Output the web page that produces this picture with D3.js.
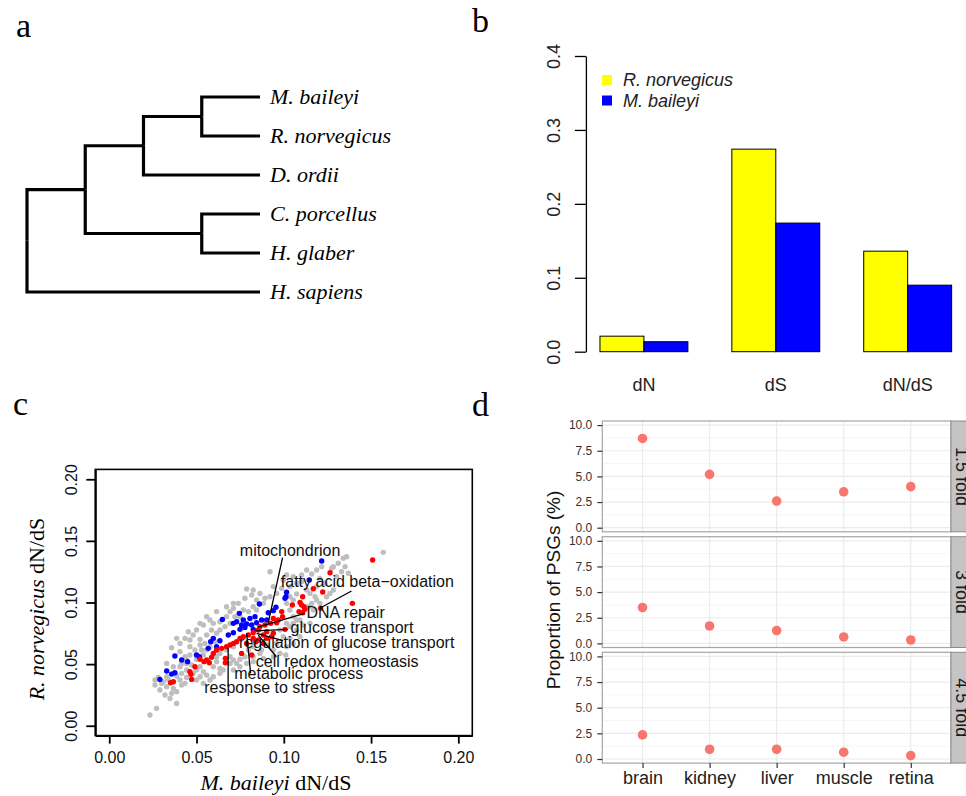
<!DOCTYPE html>
<html>
<head>
<meta charset="utf-8">
<script src="https://cdn.jsdelivr.net/npm/d3@7"></script>
<style>
  body { margin: 0; background: #fff; }
  svg { display: block; }
  text { font-family: "Liberation Sans", Arial, sans-serif; }
</style>
</head>
<body>
<div id="fig"></div>
<script>
// ---- DATA ----
// a: species tree
const species = ["M. baileyi", "R. norvegicus", "D. ordii", "C. porcellus", "H. glaber", "H. sapiens"];
const treeData = { children: [
  { children: [
    { children: [ { children: [ { name: species[0] }, { name: species[1] } ] }, { name: species[2] } ] },
    { children: [ { name: species[3] }, { name: species[4] } ] }
  ] },
  { name: species[5] }
] };

// b: dN, dS, dN/dS
const bMetrics = ["dN", "dS", "dN/dS"];
const bSpecies = ["R. norvegicus", "M. baileyi"];
const bNorvegicus = [0.021, 0.274, 0.136];
const bBaileyi = [0.0135, 0.174, 0.090];
const bTicks = [0, 0.1, 0.2, 0.3, 0.4];

// c: per-gene dN/dS, [M. baileyi, R. norvegicus]
const cTicks = [0, 0.05, 0.10, 0.15, 0.20];
const greyGenes = [
  [0.0233,0.0087],[0.0271,0.0141],[0.0386,0.0181],[0.0348,0.0222],[0.0319,0.0249],[0.0290,0.0290],
  [0.0262,0.0330],[0.0300,0.0344],[0.0329,0.0317],[0.0367,0.0303],[0.0386,0.0276],[0.0357,0.0263],
  [0.0262,0.0371],[0.0281,0.0392],[0.0309,0.0357],[0.0338,0.0376],[0.0405,0.0371],[0.0434,0.0344],
  [0.0415,0.0330],[0.0443,0.0392],[0.0386,0.0403],[0.0357,0.0633],[0.0405,0.0601],[0.0434,0.0560],
  [0.0462,0.0574],[0.0491,0.0614],[0.0520,0.0655],[0.0548,0.0668],[0.0462,0.0641],[0.0443,0.0506],
  [0.0472,0.0493],[0.0500,0.0452],[0.0520,0.0479],[0.0539,0.0438],[0.0558,0.0411],[0.0520,0.0398],
  [0.0481,0.0425],[0.0462,0.0696],[0.0520,0.0701],[0.0558,0.0736],[0.0586,0.0777],[0.0596,0.0831],
  [0.0634,0.0844],[0.0672,0.0885],[0.0692,0.0926],[0.0711,0.0953],[0.0787,0.1110],[0.0921,0.1250],
  [0.0615,0.0560],[0.0634,0.0587],[0.0692,0.0560],[0.0711,0.0533],[0.0730,0.0506],[0.0749,0.0539],
  [0.0777,0.0560],[0.0797,0.0614],[0.0825,0.0641],[0.0873,0.0614],[0.0902,0.0655],[0.0959,0.0668],
  [0.1011,0.0574],[0.0921,0.1047],[0.0959,0.1074],[0.0988,0.1115],[0.1035,0.1129],[0.1074,0.1156],
  [0.1054,0.1210],[0.1102,0.1223],[0.1131,0.1264],[0.1160,0.1231],[0.1188,0.1264],[0.1217,0.1291],
  [0.1274,0.1277],[0.1284,0.1291],[0.1312,0.1318],[0.1341,0.1359],[0.1360,0.1372],[0.1331,0.1250],
  [0.1370,0.1237],[0.1303,0.1210],[0.1570,0.1407],[0.1131,0.1101],[0.1150,0.1074],[0.1179,0.1047],
  [0.1188,0.1020],[0.1160,0.0993],[0.1140,0.0966],[0.1169,0.0939],[0.1207,0.0993],[0.1245,0.1047],
  [0.1265,0.1074],[0.1284,0.1101],[0.1035,0.1047],[0.1054,0.1020],[0.1074,0.1069],[0.1016,0.0993],
  [0.1035,0.0939],[0.1054,0.0885],[0.1016,0.0831],[0.1035,0.0804],[0.1054,0.0831],[0.1074,0.0858],
  [0.0883,0.0993],[0.0844,0.0939],[0.0825,0.0966],[0.0797,0.0926],[0.0768,0.0939],[0.0749,0.0885],
  [0.0720,0.0885],[0.0692,0.0831],[0.0663,0.0804],[0.0634,0.0777],[0.0615,0.0750],[0.0558,0.0614],
  [0.0539,0.0574],[0.0500,0.0539],[0.0596,0.0479],[0.0615,0.0520],[0.0634,0.0465],[0.0672,0.0614],
  [0.0711,0.0641],[0.0577,0.0641],[0.0606,0.0682],[0.0529,0.0614],[0.0443,0.0452],[0.0415,0.0425],
  [0.0863,0.1074],[0.0940,0.1129],[0.0997,0.1183],[0.1016,0.1223],[0.1102,0.1169],[0.1207,0.1196],
  [0.1236,0.1156],[0.1351,0.1291],[0.1188,0.1129],[0.1093,0.0858],[0.0978,0.0777],[0.0940,0.0614],
  [0.0863,0.0587],[0.0825,0.0560],[0.0787,0.0506],[0.0692,0.0506],[0.0653,0.0452],[0.0577,0.0371],
  [0.0367,0.0479],[0.0329,0.0506],[0.0405,0.0479],[0.0443,0.0533],
  [0.0739,0.0993],[0.0777,0.1034],[0.0816,0.1061],[0.0844,0.1020],[0.0892,0.1034],[0.0825,0.1101],
  [0.0711,0.0993],[0.0672,0.0966],[0.0615,0.0926],[0.0577,0.0858],[0.0539,0.0817],[0.0500,0.0777],
  [0.0520,0.0831],[0.0558,0.0885],[0.0405,0.0668],[0.0434,0.0709],[0.0481,0.0736],[0.0453,0.0763],
  [0.0386,0.0709],[0.0415,0.0506],[0.0367,0.0425],[0.0329,0.0398],[0.0500,0.0371],[0.0539,0.0344],
  [0.0596,0.0398],[0.0634,0.0425],[0.0711,0.0452],[0.0749,0.0479],[0.0825,0.0520],[0.0883,0.0547],
  [0.0940,0.0560],[0.0978,0.0587],[0.1016,0.0641],[0.1054,0.0668],[0.1093,0.0723],[0.1150,0.0831],
  [0.0997,0.0723],[0.1035,0.0709],[0.1074,0.0777],[0.1112,0.0817]
];
const blueGenes = [
  [0.1217,0.1337],[0.1146,0.1183],[0.1016,0.1083],[0.1012,0.1047],[0.0860,0.0988],[0.0955,0.0961],
  [0.0940,0.0934],[0.0911,0.0917],[0.0745,0.0912],[0.0648,0.0863],[0.0711,0.0831],[0.0730,0.0844],
  [0.0768,0.0858],[0.0806,0.0871],[0.0835,0.0885],[0.0787,0.0825],[0.0816,0.0817],[0.0844,0.0836],
  [0.0749,0.0782],[0.0777,0.0798],[0.0873,0.0858],[0.0902,0.0858],[0.0758,0.0817],[0.0825,0.0782],
  [0.0682,0.0736],[0.0711,0.0755],[0.0596,0.0709],[0.0581,0.0682],[0.0634,0.0690],[0.0615,0.0641],
  [0.0567,0.0628],[0.0500,0.0574],[0.0516,0.0560],[0.0376,0.0566],[0.0415,0.0533],[0.0449,0.0520],
  [0.0329,0.0444],[0.0357,0.0419],[0.0376,0.0430],[0.0290,0.0376],[0.1007,0.1034]
];
const redGenes = [
  [0.1509,0.1345],[0.1265,0.1242],[0.1169,0.1112],[0.1223,0.1085],[0.1108,0.1047],[0.1393,0.0993],
  [0.1093,0.1001],[0.1102,0.0980],[0.1116,0.0966],[0.1121,0.0945],[0.1087,0.0926],[0.1108,0.0917],
  [0.1049,0.0980],[0.1211,0.0953],[0.0988,0.0926],[0.0993,0.0885],[0.0968,0.0858],[0.0940,0.0871],
  [0.0959,0.0836],[0.0925,0.0831],[0.1007,0.0782],[0.0940,0.0750],[0.0902,0.0763],[0.0883,0.0736],
  [0.0854,0.0777],[0.0825,0.0755],[0.0797,0.0736],[0.0768,0.0723],[0.0749,0.0709],[0.0730,0.0682],
  [0.0711,0.0668],[0.0692,0.0655],[0.0672,0.0641],[0.0644,0.0628],[0.0615,0.0614],[0.0840,0.0682],
  [0.0854,0.0696],[0.0883,0.0668],[0.0787,0.0668],[0.0825,0.0709],[0.0816,0.0574],[0.0758,0.0587],
  [0.0665,0.0511],[0.0665,0.0547],[0.0596,0.0587],[0.0586,0.0555],[0.0558,0.0533],[0.0573,0.0511],
  [0.0543,0.0520],[0.0520,0.0539],[0.0491,0.0479],[0.0462,0.0438],[0.0468,0.0417],[0.0472,0.0376],
  [0.0367,0.0357],[0.0351,0.0349],[0.0902,0.0709],[0.0930,0.0723],[0.0863,0.0804],[0.0892,0.0817]
];
// GO term labels: text anchor and leader line, in data units
const goTerms = ["mitochondrion", "fatty acid beta\u2212oxidation", "DNA repair", "glucose transport",
  "regulation of glucose transport", "cell redox homeostasis", "metabolic process", "response to stress"];
const goText = [[0.0748,0.1380],[0.0983,0.1123],[0.1130,0.0877],[0.1039,0.0750],
  [0.0744,0.0628],[0.0840,0.0479],[0.0716,0.0377],[0.0544,0.0263]];
const goLine = [[0.0993,0.1364,0.0910,0.0831],[0.1388,0.1093,0.1206,0.0953],[0.1120,0.0912,0.0851,0.0801],
  [0.1023,0.0782,0.0834,0.0769],[0.0996,0.0690,0.0844,0.0750],[0.0958,0.0560,0.0853,0.0736],
  [0.0810,0.0425,0.0787,0.0750],[0.0681,0.0317,0.0681,0.0628]];

// d: proportion of PSGs per tissue
const tissues = ["brain", "kidney", "liver", "muscle", "retina"];
const folds = ["1.5 fold", "3 fold", "4.5 fold"];
const psg15 = [8.7, 5.2, 2.6, 3.5, 4.0];
const psg3 = [3.5, 1.7, 1.25, 0.63, 0.33];
const psg45 = [2.35, 0.95, 0.95, 0.66, 0.33];
const dTicks = [0, 2.5, 5, 7.5, 10];

// ---- SVG ----
const svg = d3.select("#fig").append("svg")
  .attr("width", 966)
  .attr("height", 796);

const serif = "'Liberation Serif', 'Times New Roman', serif";

// panel letters
[["a", 16, 37], ["b", 472, 32], ["c", 13, 415], ["d", 472, 416]].forEach(d => {
  svg.append("text").attr("x", d[1]).attr("y", d[2])
    .style("font-family", serif).style("font-size", "34px").text(d[0]);
});

// ---- PANEL A: tree ----
const gA = svg.append("g").attr("transform", "translate(27,77.5)");
const root = d3.hierarchy(treeData);
d3.cluster().size([234, 233]).separation(() => 1)(root);

gA.selectAll("path.branch")
  .data(root.links())
  .enter()
  .append("path")
  .attr("class", "branch")
  .attr("d", d => `M${d.source.y},${d.source.x}V${d.target.x}H${d.target.y}`)
  .style("fill", "none")
  .style("stroke", "#000")
  .style("stroke-width", 3.2);

gA.selectAll("text.tip")
  .data(root.leaves())
  .enter()
  .append("text")
  .attr("class", "tip")
  .attr("x", d => d.y + 10)
  .attr("y", d => d.x)
  .attr("dy", "0.33em")
  .style("font-family", serif)
  .style("font-style", "italic")
  .style("font-size", "22px")
  .text(d => d.data.name);

// ---- PANEL B: bars ----
const gB = svg.append("g");
const xB = d3.scaleLinear().domain([0.68, 9.32]).range([585.9, 965.7]);
const yB = d3.scaleLinear().domain([0, 0.4]).range([351.7, 56]);
const barColors = ["#ffff00", "#0000ff"];

const barRows = [];
bMetrics.forEach((m, i) => {
  barRows.push({ m, s: 0, v: bNorvegicus[i], u: 1 + 3 * i });
  barRows.push({ m, s: 1, v: bBaileyi[i], u: 2 + 3 * i });
});

gB.selectAll("rect.bar")
  .data(barRows)
  .enter()
  .append("rect")
  .attr("class", "bar")
  .attr("x", d => xB(d.u))
  .attr("width", d => xB(d.u + 1) - xB(d.u))
  .attr("y", d => yB(d.v))
  .attr("height", d => yB(0) - yB(d.v))
  .style("fill", d => barColors[d.s])
  .style("stroke", "#000")
  .style("stroke-width", 1);

const axB = gB.append("g")
  .attr("transform", `translate(${xB(0.68)},0)`)
  .call(d3.axisLeft(yB).tickValues(bTicks).tickSize(11).tickSizeOuter(0).tickFormat(d3.format(".1f")));
axB.select(".domain").style("stroke-width", 1.3);
axB.selectAll(".tick line").style("stroke-width", 1.3);
axB.selectAll(".tick text")
  .attr("x", null).attr("dy", null)
  .attr("transform", "translate(-26,0) rotate(-90)")
  .attr("text-anchor", "middle")
  .style("font-size", "18px")
  .style("font-family", "'Liberation Sans', Arial, sans-serif")
  .style("fill", "#222");

gB.selectAll("text.metric")
  .data(bMetrics)
  .enter()
  .append("text")
  .attr("class", "metric")
  .attr("x", (d, i) => xB(2 + 3 * i))
  .attr("y", 391)
  .attr("text-anchor", "middle")
  .style("font-size", "18px")
  .style("fill", "#222")
  .text(d => d);

const legB = gB.selectAll("g.leg")
  .data(bSpecies)
  .enter()
  .append("g")
  .attr("class", "leg")
  .attr("transform", (d, i) => `translate(602,${75 + i * 20.5})`);
legB.append("rect").attr("width", 10).attr("height", 10).style("fill", (d, i) => barColors[i]);
legB.append("text").attr("x", 21).attr("y", 11)
  .style("font-size", "18px").style("font-style", "italic").style("fill", "#222")
  .text(d => d);

// ---- PANEL C: scatter ----
const gC = svg.append("g");
const xC = d3.scaleLinear().domain([-0.008, 0.208]).range([95.3, 472.3]);
const yC = d3.scaleLinear().domain([-0.008, 0.208]).range([735.6, 469.4]);

gC.append("rect")
  .attr("x", xC(-0.008)).attr("y", yC(0.208))
  .attr("width", xC(0.208) - xC(-0.008))
  .attr("height", yC(-0.008) - yC(0.208))
  .style("fill", "none").style("stroke", "#000").style("stroke-width", 1.6);

[[greyGenes, "#bebebe"], [blueGenes, "#0000ff"], [redGenes, "#ff0000"]].forEach(([pts, col]) => {
  gC.append("g").selectAll("circle")
    .data(pts)
    .enter()
    .append("circle")
    .attr("cx", d => xC(d[0]))
    .attr("cy", d => yC(d[1]))
    .attr("r", 2.7)
    .style("fill", col);
});

gC.selectAll("line.leader")
  .data(goLine)
  .enter()
  .append("line")
  .attr("class", "leader")
  .attr("x1", d => xC(d[0])).attr("y1", d => yC(d[1]))
  .attr("x2", d => xC(d[2])).attr("y2", d => yC(d[3]))
  .style("stroke", "#000").style("stroke-width", 1.3);

gC.selectAll("text.go")
  .data(goTerms)
  .enter()
  .append("text")
  .attr("class", "go")
  .attr("x", (d, i) => xC(goText[i][0]))
  .attr("y", (d, i) => yC(goText[i][1]))
  .style("font-size", "16px")
  .style("fill", "#111")
  .text(d => d);

const axCx = gC.append("g")
  .attr("transform", `translate(0,${yC(-0.008)})`)
  .call(d3.axisBottom(xC).tickValues(cTicks).tickSize(8).tickSizeOuter(0).tickPadding(8).tickFormat(d3.format(".2f")));
const axCy = gC.append("g")
  .attr("transform", `translate(${xC(-0.008)},0)`)
  .call(d3.axisLeft(yC).tickValues(cTicks).tickSize(9).tickSizeOuter(0).tickFormat(d3.format(".2f")));
[axCx, axCy].forEach(ax => {
  ax.select(".domain").style("stroke-width", 2);
  ax.selectAll(".tick line").style("stroke-width", 1.8);
  ax.selectAll(".tick text").style("font-size", "16px")
    .style("font-family", "'Liberation Sans', Arial, sans-serif").style("fill", "#111");
});
axCy.selectAll(".tick text")
  .attr("x", null).attr("dy", null)
  .attr("transform", "translate(-18,0) rotate(-90)")
  .attr("text-anchor", "middle");

const xTitle = gC.append("text")
  .attr("x", 276).attr("y", 790)
  .attr("text-anchor", "middle")
  .style("font-family", serif).style("font-size", "22px");
xTitle.append("tspan").style("font-style", "italic").text("M. baileyi");
xTitle.append("tspan").text(" dN/dS");

const yTitle = gC.append("text")
  .attr("transform", "translate(44,609) rotate(-90)")
  .attr("text-anchor", "middle")
  .style("font-family", serif).style("font-size", "22px");
yTitle.append("tspan").style("font-style", "italic").text("R. norvegicus");
yTitle.append("tspan").text(" dN/dS");

// ---- PANEL D: faceted dots ----
const gD = svg.append("g");
const xD = d3.scalePoint().domain(tissues).range([602.3, 951]).padding(0.6);
const panelTops = [421, 536.7, 652.3];
const panelH = 110.8;
const psgSeries = [psg15, psg3, psg45];

folds.forEach((f, k) => {
  const top = panelTops[k];
  const yD = d3.scaleLinear().domain([-0.4, 10.4]).range([top + panelH, top]);
  const p = gD.append("g");

  p.append("rect")
    .attr("x", 602.3).attr("y", top).attr("width", 951 - 602.3).attr("height", panelH)
    .style("fill", "#fff");

  // minor and major grid
  p.selectAll("line.minor")
    .data([1.25, 3.75, 6.25, 8.75])
    .enter().append("line")
    .attr("x1", 602.3).attr("x2", 951)
    .attr("y1", d => yD(d)).attr("y2", d => yD(d))
    .style("stroke", "#f4f4f4").style("stroke-width", 0.8);
  p.selectAll("line.major")
    .data(dTicks)
    .enter().append("line")
    .attr("x1", 602.3).attr("x2", 951)
    .attr("y1", d => yD(d)).attr("y2", d => yD(d))
    .style("stroke", "#ebebeb").style("stroke-width", 1.2);
  p.selectAll("line.vgrid")
    .data(tissues)
    .enter().append("line")
    .attr("x1", d => xD(d)).attr("x2", d => xD(d))
    .attr("y1", top).attr("y2", top + panelH)
    .style("stroke", "#ebebeb").style("stroke-width", 1.2);

  p.selectAll("circle")
    .data(psgSeries[k])
    .enter().append("circle")
    .attr("cx", (d, i) => xD(tissues[i]))
    .attr("cy", d => yD(d))
    .attr("r", 4.8)
    .style("fill", "#f8766d");

  p.append("rect")
    .attr("x", 602.3).attr("y", top).attr("width", 951 - 602.3).attr("height", panelH)
    .style("fill", "none").style("stroke", "#a6a6a6").style("stroke-width", 1.2);

  // strip (cut by the page edge, as in the original)
  p.append("rect")
    .attr("x", 951).attr("y", top).attr("width", 24).attr("height", panelH)
    .style("fill", "#c4c4c4").style("stroke", "#8c8c8c").style("stroke-width", 1);
  p.append("text")
    .attr("transform", `translate(962,${top + panelH / 2}) rotate(90)`)
    .attr("text-anchor", "middle")
    .attr("dominant-baseline", "central")
    .style("font-size", "18px")
    .style("fill", "#1a1a1a")
    .text(f);

  const ay = p.append("g")
    .attr("transform", "translate(602.3,0)")
    .call(d3.axisLeft(yD).tickValues(dTicks).tickSize(5).tickPadding(5).tickFormat(d3.format(".1f")));
  ay.select(".domain").remove();
  ay.selectAll(".tick line").style("stroke", "#333").style("stroke-width", 1.2);
  ay.selectAll(".tick text").style("font-size", "12px")
    .style("font-family", "'Liberation Sans', Arial, sans-serif").style("fill", "#333");

  if (k === folds.length - 1) {
    const ax = p.append("g")
      .attr("transform", `translate(0,${top + panelH})`)
      .call(d3.axisBottom(xD).tickSize(5).tickPadding(3));
    ax.select(".domain").remove();
    ax.selectAll(".tick line").style("stroke", "#333").style("stroke-width", 1.2);
    ax.selectAll(".tick text").style("font-size", "18px")
      .style("font-family", "'Liberation Sans', Arial, sans-serif").style("fill", "#222");
  }
});

gD.append("text")
  .attr("transform", "translate(560,590) rotate(-90)")
  .attr("text-anchor", "middle")
  .style("font-size", "19px")
  .style("fill", "#111")
  .text("Proportion of PSGs (%)");
</script>
</body>
</html>
